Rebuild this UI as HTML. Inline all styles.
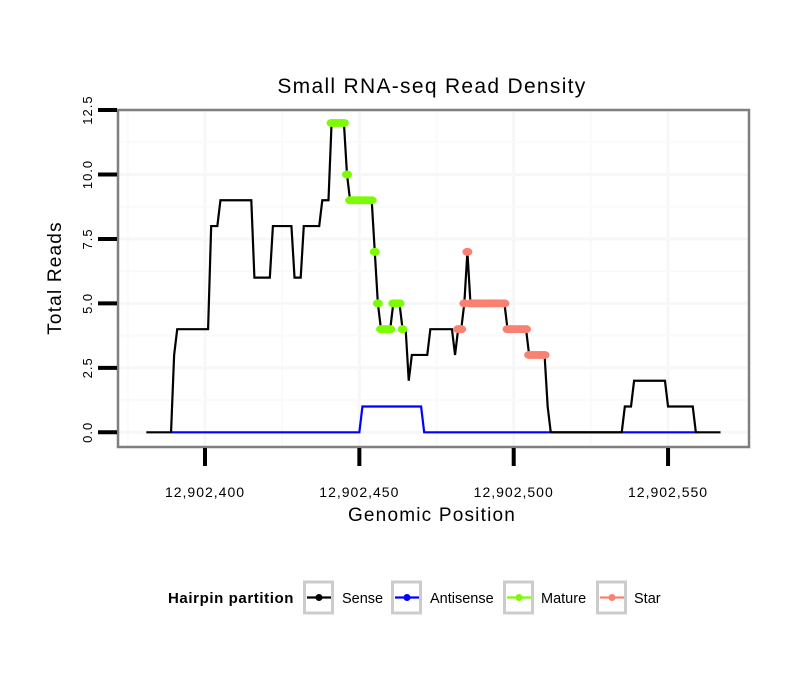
<!DOCTYPE html>
<html><head><meta charset="utf-8"><style>
body{margin:0;background:#fff;}
svg{display:block;font-family:"Liberation Sans",sans-serif;}
</style></head><body>
<svg id="chart" width="810" height="690" xmlns="http://www.w3.org/2000/svg">
<rect width="810" height="690" fill="#fff"/>
<text x="432" y="93" font-size="21" letter-spacing="1.3" text-anchor="middle">Small RNA-seq Read Density</text>
<g id="grid"></g>
<g id="series"></g>
<rect x="118" y="110" width="631" height="337" fill="none" stroke="#7f7f7f" stroke-width="2.5"/>
<g id="axes"></g>
<text x="432" y="521" font-size="19" letter-spacing="1.2" text-anchor="middle">Genomic Position</text>
<text transform="translate(61,278) rotate(-90)" font-size="19" letter-spacing="1.2" text-anchor="middle">Total Reads</text>
<g>
<text x="168" y="603" font-size="15" letter-spacing="0.6" font-weight="bold">Hairpin partition</text>
<g id="legend"></g>
</g>
</svg>
<script>
const startPos = 12902381;
const senseValues = [0,0,0,0,0,0,0,0,0,3,4,4,4,4,4,4,4,4,4,4,4,8,8,8,9,9,9,9,9,9,9,9,9,9,9,6,6,6,6,6,6,8,8,8,8,8,8,8,6,6,6,8,8,8,8,8,8,9,9,9,12,12,12,12,12,10,9,9,9,9,9,9,9,9,7,5,4,4,4,4,5,5,5,4,4,2,3,3,3,3,3,3,4,4,4,4,4,4,4,4,3,4,4,5,7,5,5,5,5,5,5,5,5,5,5,5,5,4,4,4,4,4,4,4,3,3,3,3,3,3,1,0,0,0,0,0,0,0,0,0,0,0,0,0,0,0,0,0,0,0,0,0,0,0,0,1,1,1,2,2,2,2,2,2,2,2,2,2,2,1,1,1,1,1,1,1,1,1,0,0,0,0,0,0,0,0,0];
const antisenseStart = 12902389;
const antisenseValues = [0,0,0,0,0,0,0,0,0,0,0,0,0,0,0,0,0,0,0,0,0,0,0,0,0,0,0,0,0,0,0,0,0,0,0,0,0,0,0,0,0,0,0,0,0,0,0,0,0,0,0,0,0,0,0,0,0,0,0,0,0,0,1,1,1,1,1,1,1,1,1,1,1,1,1,1,1,1,1,1,1,1,0,0,0,0,0,0,0,0,0,0,0,0,0,0,0,0,0,0,0,0,0,0,0,0,0,0,0,0,0,0,0,0,0,0,0,0,0,0,0,0,0,0,0,0,0,0,0,0,0,0,0,0,0,0,0,0,0,0,0,0,0,0,0,0,0,0,0,0,0,0,0,0,0,0,0,0,0,0,0,0,0,0,0,0,0,0,0,0,0,0];
const matureRange = [12902441, 12902464];
const starRange = [12902482, 12902510];
const xTicks = [12902400, 12902450, 12902500, 12902550];
const xTickLabels = ["12,902,400","12,902,450","12,902,500","12,902,550"];
const yTicks = [0, 2.5, 5, 7.5, 10, 12.5];
const yTickLabels = ["0.0","2.5","5.0","7.5","10.0","12.5"];
const legendLabels = ["Sense","Antisense","Mature","Star"];
const legendColors = ["#000000","#0000ff","#7cfc00","#fa8072"];

const NS="http://www.w3.org/2000/svg";
function X(p){return 205 + (p-12902400)*3.087;}
function Y(v){return 432.3 - v*25.78;}
function mk(tag, attrs, parent){const e=document.createElementNS(NS,tag);for(const k in attrs)e.setAttribute(k,attrs[k]);parent.appendChild(e);return e;}
const grid=document.getElementById('grid'), series=document.getElementById('series'), axes=document.getElementById('axes');

for(let i=0;i<xTicks.length;i++){
  const l=mk('line',{x1:X(xTicks[i]),x2:X(xTicks[i]),y1:110,y2:447,stroke:'#f7f7f7','stroke-width':3},grid);
  
  
  const m=xTicks[i]-25;
  const l2=mk('line',{x1:X(m),x2:X(m),y1:110,y2:447,stroke:'#fafafa','stroke-width':2},grid);
  
  
}
for(let i=0;i<yTicks.length;i++){
  const l=mk('line',{x1:118,x2:749,y1:Y(yTicks[i]),y2:Y(yTicks[i]),stroke:'#f7f7f7','stroke-width':3},grid);
  
  
  if(i<yTicks.length-1){
    const m=(yTicks[i]+yTicks[i+1])/2;
    const l2=mk('line',{x1:118,x2:749,y1:Y(m),y2:Y(m),stroke:'#fafafa','stroke-width':2},grid);
    
    
  }
}
for(let i=0;i<yTicks.length;i++){
  const t=mk('line',{x1:98,x2:117,y1:Y(yTicks[i]),y2:Y(yTicks[i]),stroke:'#000','stroke-width':4},axes);
  
  
  const tx=mk('text',{transform:`translate(92,${Y(yTicks[i])}) rotate(-90)`,'font-size':13,'letter-spacing':1,'text-anchor':'middle'},axes);
  tx.textContent=yTickLabels[i];
  
  
}
for(let i=0;i<xTicks.length;i++){
  const t=mk('line',{x1:X(xTicks[i]),x2:X(xTicks[i]),y1:448,y2:466,stroke:'#000','stroke-width':4},axes);
  
  
  const tx=mk('text',{x:X(xTicks[i]),y:497,'font-size':14,'letter-spacing':1,'text-anchor':'middle'},axes);
  tx.textContent=xTickLabels[i];
  
  
}
function pts(start, vals, from, to){
  const a=[];for(let i=0;i<vals.length;i++){const p=start+i;if(p>=from&&p<=to)a.push([X(p),Y(vals[i])]);}return a;
}
const anti=mk('polyline',{points:pts(antisenseStart,antisenseValues,-Infinity,Infinity).join(' '),fill:'none',stroke:'#0000ff','stroke-width':2.2},series);


const sense=mk('polyline',{points:pts(startPos,senseValues,-Infinity,Infinity).join(' '),fill:'none',stroke:'#000','stroke-width':2.2},series);


[[matureRange,'#7cfc00','mature'],[starRange,'#fa8072','star']].forEach(([r,c,n])=>{
  const p=pts(startPos,senseValues,r[0],r[1]);
  p.forEach(q=>{
    const d=mk('ellipse',{cx:q[0],cy:q[1],rx:5,ry:4,fill:c},series);
    
    
  });
});
const lg=document.getElementById('legend');
const boxX=[303,391,503,596], labX=[342,430,541,634];
for(let i=0;i<legendLabels.length;i++){
  const g=mk('g',{},lg);
  
  
  mk('rect',{x:boxX[i]+1.5,y:582,width:28,height:31,fill:'#fff',stroke:'#cccccc','stroke-width':3},g);
  mk('line',{x1:boxX[i]+4,x2:boxX[i]+28,y1:597.5,y2:597.5,stroke:legendColors[i],'stroke-width':2.2},g);
  mk('circle',{cx:boxX[i]+16,cy:597.5,r:3.5,fill:legendColors[i]},g);
  const t=mk('text',{x:labX[i],y:603,'font-size':14.5},g);
  t.textContent=legendLabels[i];
}
</script>
</body></html>
